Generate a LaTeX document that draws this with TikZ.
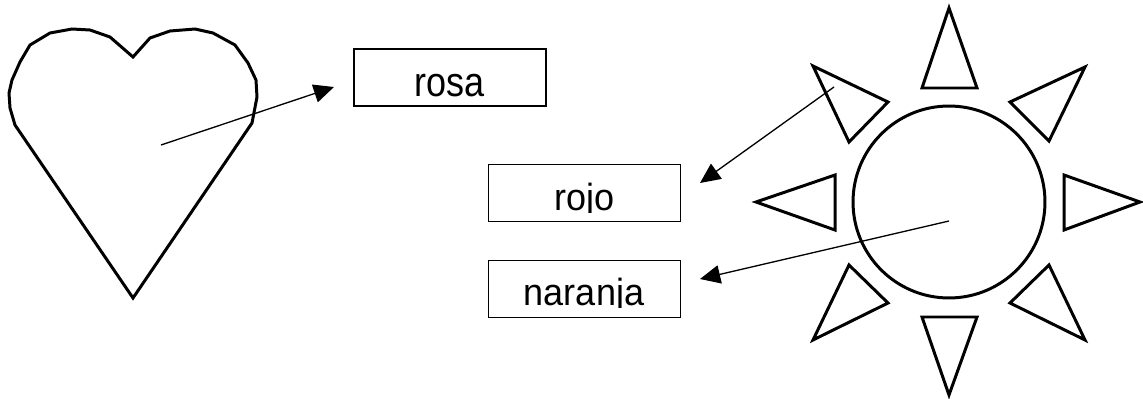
\documentclass[tikz,border=0pt]{standalone}
\usepackage{fontspec}
\setmainfont{Liberation Sans}
\usetikzlibrary{arrows.meta}
\tikzset{
  shapeline/.style={draw=black,line width=1.7pt},
  wordbox/.style={draw=black,line width=0.9pt,minimum width=3.84cm,minimum height=1.14cm,inner sep=0pt},
  wordtext/.style={anchor=base,inner sep=0pt,font=\fontsize{20.5}{24}\selectfont},
  pointer/.style={draw=black,line width=0.75pt,-{Triangle[length=11.5pt,width=10.5pt]}}
}
\begin{document}
\begin{tikzpicture}[x=0.02cm,y=-0.02cm]
\useasboundingbox (0,0) rectangle (1143,399);
\draw [shapeline] (133,298) -- (15,125) -- (10,108) -- (9,93) -- (12,80) -- (20,62) -- (30,45) -- (50,33) -- (72,29) -- (90,30) -- (110,37) -- (133,57) -- (150,38) -- (170,31) -- (195,29) -- (213,33) -- (235,45) -- (248,63) -- (256,80) -- (257,97) -- (252,123) -- cycle;
\node [wordbox] at (450,77.5) (rosa) {};
\node [wordbox] at (584.5,193) (rojo) {};
\node [wordbox] at (584.5,289) (naranja) {};
\node [wordtext] at (449.5,96) (rosatext) {\scalebox{1}[1.15]{rosa}};
\begin{scope}
\clip (490,166) rectangle (679,212);
\node [wordtext] at (584.5,210) (rojotext) {\scalebox{1}[1.05]{rojo}};
\end{scope}
\begin{scope}
\clip (490,262) rectangle (679,307);
\node [wordtext] at (584,305) (naranjatext) {\scalebox{1}[1.05]{naranja}};
\end{scope}
\node [shapeline,circle,minimum size=3.84cm,inner sep=0pt] at (949,202) (sun) {};
\draw [shapeline] (949,8) -- (922,88) -- (977,88) -- cycle;
\draw [shapeline] (1085,67) -- (1010,102) -- (1049,141) -- cycle;
\draw [shapeline] (1140,202) -- (1064,175) -- (1064,230) -- cycle;
\draw [shapeline] (1085,340) -- (1010,303) -- (1049,265) -- cycle;
\draw [shapeline] (949,395) -- (922,317) -- (977,317) -- cycle;
\draw [shapeline] (813,340) -- (888,303) -- (849,265) -- cycle;
\draw [shapeline] (756,202) -- (835,175) -- (835,230) -- cycle;
\draw [shapeline] (813,66) -- (888,102) -- (849,142) -- cycle;
\coordinate (heartmid) at (161,145);
\coordinate (rosatip) at (334,87);
\coordinate (rayleft) at (834,87);
\coordinate (rojotip) at (700,183);
\coordinate (sunmid) at (949,221);
\coordinate (naranjatip) at (700,279);
\draw [pointer] (heartmid) -- (rosatip);
\draw [pointer] (rayleft) -- (rojotip);
\draw [pointer] (sunmid) -- (naranjatip);
\end{tikzpicture}
\end{document}
